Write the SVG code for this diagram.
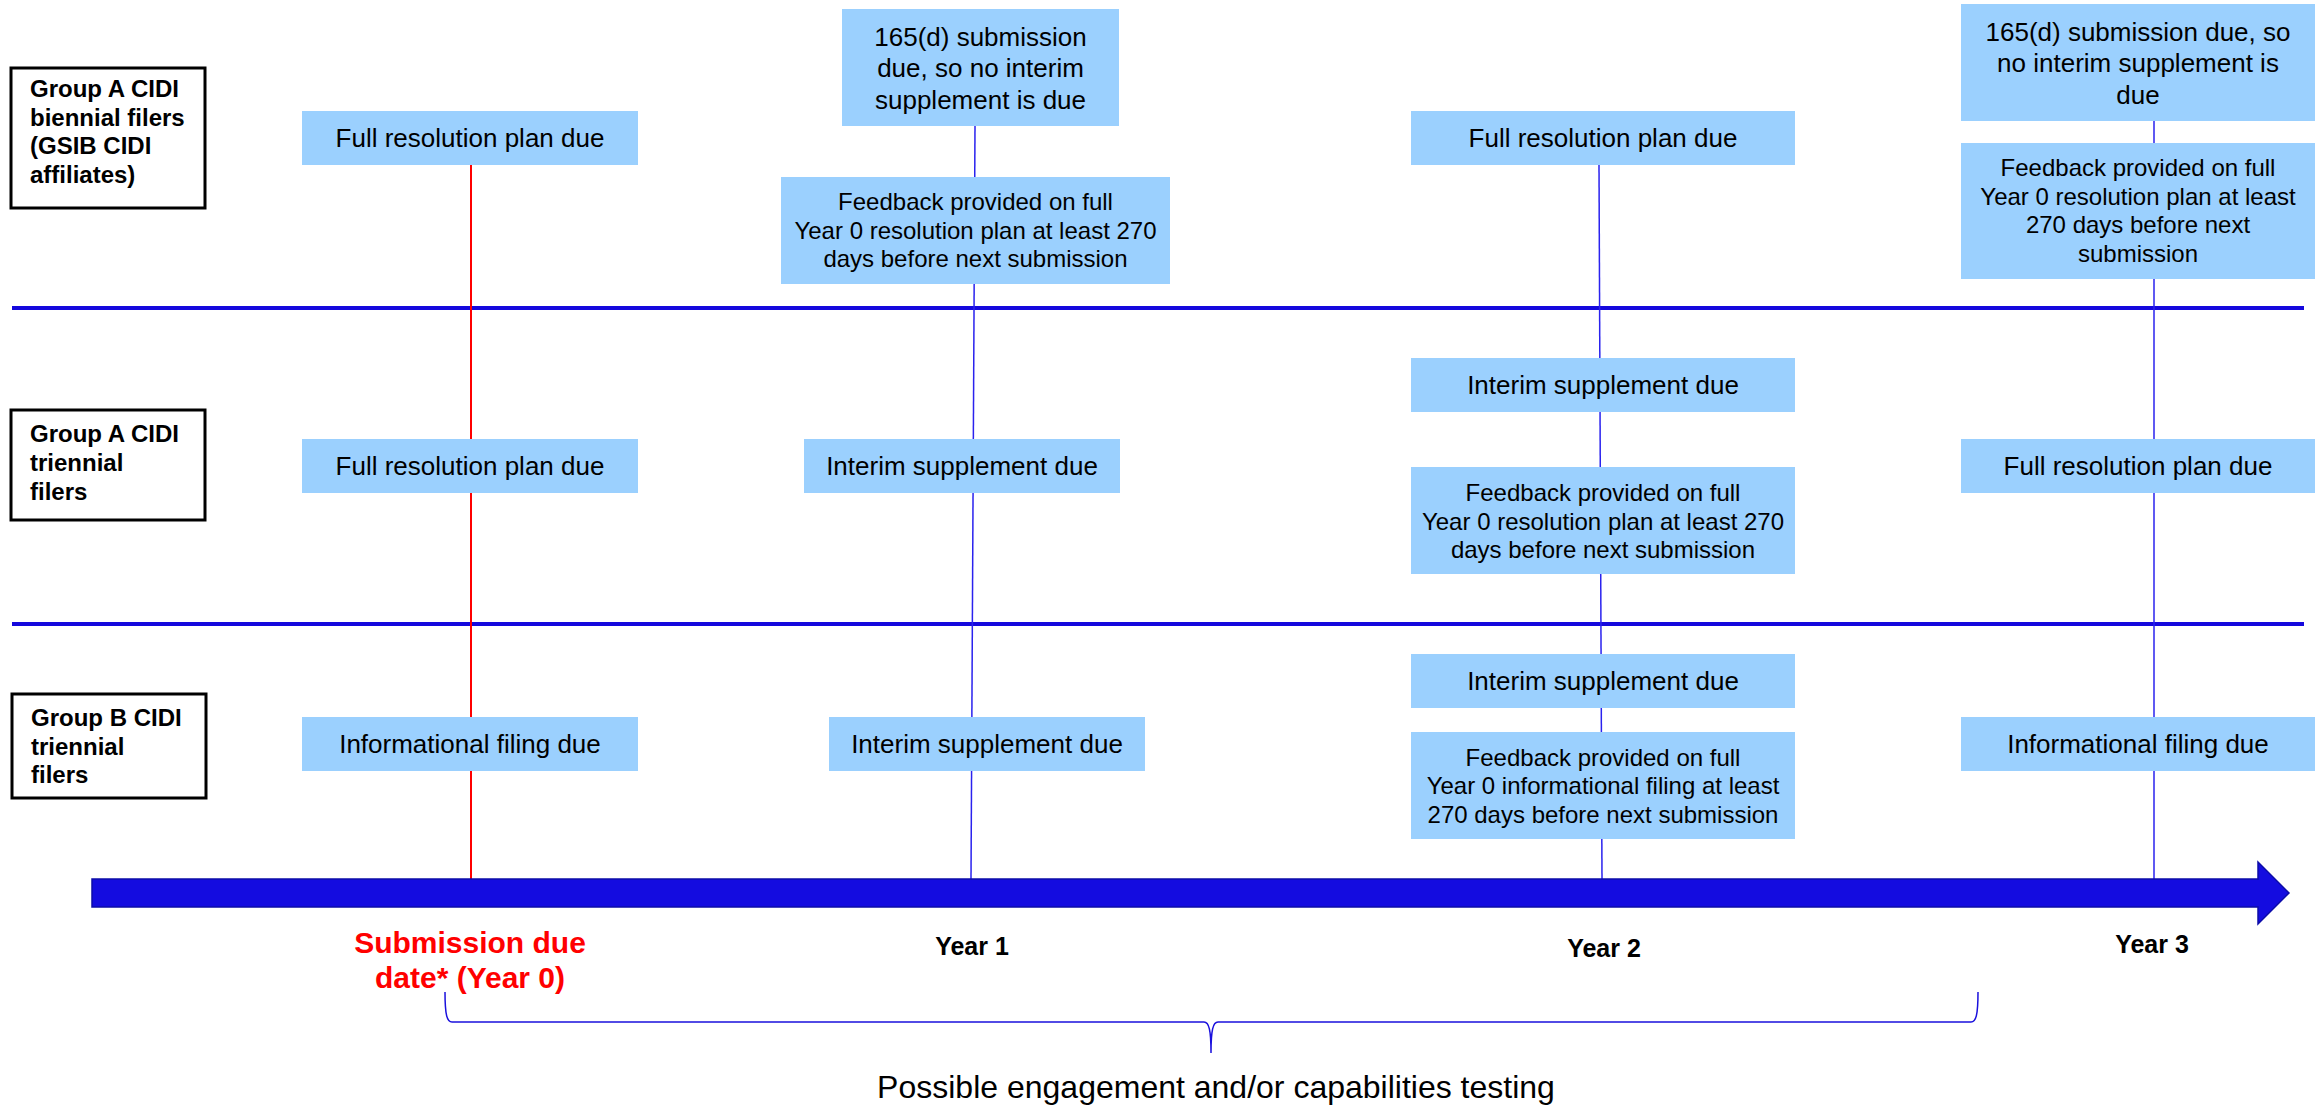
<svg xmlns="http://www.w3.org/2000/svg" width="2323" height="1106" viewBox="0 0 2323 1106">
<style>
  .bg { fill: #ffffff; }
  .lbl { fill: #ffffff; stroke: #000000; stroke-width: 3; }
  .lbltxt { font-family: "Liberation Sans", Arial, sans-serif; font-weight: bold; font-size: 24px; fill: #000000; }
  .box { fill: #9BD0FE; stroke: none; }
  .t26 { font-family: "Liberation Sans", Arial, sans-serif; font-size: 26px; fill: #000000; text-anchor: middle; }
  .t24 { font-family: "Liberation Sans", Arial, sans-serif; font-size: 24px; fill: #000000; text-anchor: middle; }
  .divider { stroke: #1508DD; stroke-width: 4; fill: none; }
  .vblue { stroke: #2A22EE; stroke-width: 1.5; fill: none; }
  .vred { stroke: #FF0000; stroke-width: 2; fill: none; }
  .bar { fill: #140CE0; stroke: #0C0CA8; stroke-width: 1.5; }
  .yr { font-family: "Liberation Sans", Arial, sans-serif; font-weight: bold; font-size: 25px; fill: #000000; text-anchor: middle; }
  .sub { font-family: "Liberation Sans", Arial, sans-serif; font-weight: bold; font-size: 30px; fill: #FF0000; text-anchor: middle; }
  .brace { stroke: #1A10DD; stroke-width: 1.5; fill: none; }
  .bottom { font-family: "Liberation Sans", Arial, sans-serif; font-size: 32px; fill: #000000; text-anchor: middle; }
</style>
<rect class="bg" x="0" y="0" width="2323" height="1106"/>

<g id="dividers">
  <line class="divider" x1="12" y1="308" x2="2304" y2="308"/>
  <line class="divider" x1="12" y1="624" x2="2304" y2="624"/>
</g>

<g id="connectors">
  <line class="vred" x1="471" y1="165" x2="471" y2="879"/>
  <line class="vblue" x1="975" y1="126" x2="971" y2="879"/>
  <line class="vblue" x1="1599" y1="165" x2="1602" y2="879"/>
  <line class="vblue" x1="2154" y1="121" x2="2154" y2="879"/>
</g>

<g id="timeline">
  <polygon class="bar" points="92,879 2258,879 2258,862 2289,893 2258,924 2258,907 92,907"/>
</g>

<g id="label-groupA-biennial">
  <rect class="lbl" x="11" y="68" width="194" height="140"/>
  <text class="lbltxt" x="30" y="97">Group A CIDI</text>
  <text class="lbltxt" x="30" y="125.5">biennial filers</text>
  <text class="lbltxt" x="30" y="154">(GSIB CIDI</text>
  <text class="lbltxt" x="30" y="182.5">affiliates)</text>
</g>
<g id="label-groupA-triennial">
  <rect class="lbl" x="11" y="410" width="194" height="110"/>
  <text class="lbltxt" x="30" y="442">Group A CIDI</text>
  <text class="lbltxt" x="30" y="471">triennial</text>
  <text class="lbltxt" x="30" y="500">filers</text>
</g>
<g id="label-groupB-triennial">
  <rect class="lbl" x="12" y="694" width="194" height="104"/>
  <text class="lbltxt" x="31" y="726">Group B CIDI</text>
  <text class="lbltxt" x="31" y="754.5">triennial</text>
  <text class="lbltxt" x="31" y="783">filers</text>
</g>

<!-- Year 0 -->
<g id="y0-r1">
  <rect class="box" x="302" y="111" width="336" height="54"/>
  <text class="t26" x="470" y="147">Full resolution plan due</text>
</g>
<g id="y0-r2">
  <rect class="box" x="302" y="439" width="336" height="54"/>
  <text class="t26" x="470" y="475">Full resolution plan due</text>
</g>
<g id="y0-r3">
  <rect class="box" x="302" y="717" width="336" height="54"/>
  <text class="t26" x="470" y="753">Informational filing due</text>
</g>

<!-- Year 1 -->
<g id="y1-r1a">
  <rect class="box" x="842" y="9" width="277" height="117"/>
  <text class="t26" x="980.5" y="45.5">165(d) submission</text>
  <text class="t26" x="980.5" y="77">due, so no interim</text>
  <text class="t26" x="980.5" y="108.5">supplement is due</text>
</g>
<g id="y1-r1b">
  <rect class="box" x="781" y="177" width="389" height="107"/>
  <text class="t24" x="975.5" y="210">Feedback provided on full</text>
  <text class="t24" x="975.5" y="238.5">Year 0 resolution plan at least 270</text>
  <text class="t24" x="975.5" y="267">days before next submission</text>
</g>
<g id="y1-r2">
  <rect class="box" x="804" y="439" width="316" height="54"/>
  <text class="t26" x="962" y="475">Interim supplement due</text>
</g>
<g id="y1-r3">
  <rect class="box" x="829" y="717" width="316" height="54"/>
  <text class="t26" x="987" y="753">Interim supplement due</text>
</g>

<!-- Year 2 -->
<g id="y2-r1">
  <rect class="box" x="1411" y="111" width="384" height="54"/>
  <text class="t26" x="1603" y="147">Full resolution plan due</text>
</g>
<g id="y2-r2a">
  <rect class="box" x="1411" y="358" width="384" height="54"/>
  <text class="t26" x="1603" y="394">Interim supplement due</text>
</g>
<g id="y2-r2b">
  <rect class="box" x="1411" y="467" width="384" height="107"/>
  <text class="t24" x="1603" y="501">Feedback provided on full</text>
  <text class="t24" x="1603" y="529.5">Year 0 resolution plan at least 270</text>
  <text class="t24" x="1603" y="558">days before next submission</text>
</g>
<g id="y2-r3a">
  <rect class="box" x="1411" y="654" width="384" height="54"/>
  <text class="t26" x="1603" y="690">Interim supplement due</text>
</g>
<g id="y2-r3b">
  <rect class="box" x="1411" y="732" width="384" height="107"/>
  <text class="t24" x="1603" y="765.5">Feedback provided on full</text>
  <text class="t24" x="1603" y="794">Year 0 informational filing at least</text>
  <text class="t24" x="1603" y="822.5">270 days before next submission</text>
</g>

<!-- Year 3 -->
<g id="y3-r1a">
  <rect class="box" x="1961" y="4" width="354" height="117"/>
  <text class="t26" x="2138" y="40.5">165(d) submission due, so</text>
  <text class="t26" x="2138" y="72">no interim supplement is</text>
  <text class="t26" x="2138" y="103.5">due</text>
</g>
<g id="y3-r1b">
  <rect class="box" x="1961" y="143" width="354" height="136"/>
  <text class="t24" x="2138" y="176">Feedback provided on full</text>
  <text class="t24" x="2138" y="204.5">Year 0 resolution plan at least</text>
  <text class="t24" x="2138" y="233">270 days before next</text>
  <text class="t24" x="2138" y="261.5">submission</text>
</g>
<g id="y3-r2">
  <rect class="box" x="1961" y="439" width="354" height="54"/>
  <text class="t26" x="2138" y="475">Full resolution plan due</text>
</g>
<g id="y3-r3">
  <rect class="box" x="1961" y="717" width="354" height="54"/>
  <text class="t26" x="2138" y="753">Informational filing due</text>
</g>

<g id="axis-labels">
  <text class="sub" x="470" y="953">Submission due</text>
  <text class="sub" x="470" y="988">date* (Year 0)</text>
  <text class="yr" x="972" y="955">Year 1</text>
  <text class="yr" x="1604" y="957">Year 2</text>
  <text class="yr" x="2152" y="953">Year 3</text>
</g>

<g id="engagement">
  <path class="brace" d="M445,992 C445,1015 447,1022 452,1022 L1204,1022 C1209,1022 1211,1030 1211,1053 C1211,1030 1213,1022 1218,1022 L1971,1022 C1976,1022 1978,1015 1978,992"/>
  <text class="bottom" x="1216" y="1098">Possible engagement and/or capabilities testing</text>
</g>
</svg>
